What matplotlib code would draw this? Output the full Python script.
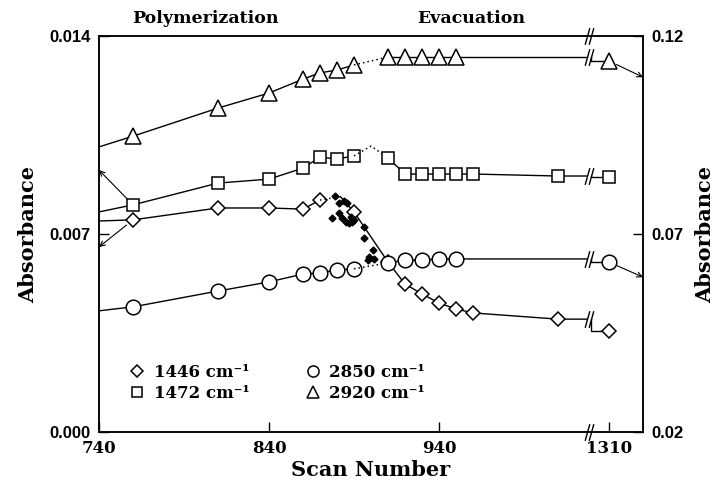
import matplotlib.pyplot as plt
from matplotlib.lines import Line2D

# scan numbers
poly_scans = [760, 810, 840, 860, 870, 880, 890]
evac_scans = [910, 920, 930, 940, 950]
evac_scans_long = [910, 920, 930, 940, 950, 960, 1010]
final_scan = 1310
break_scan = 1028     # where the scan axis is cut
skip = 270            # scans hidden by the cut

# 1446 cm-1 (left axis)
dia_start = 0.00746
dia_poly_scans = [760, 810, 840, 860, 870, 890]
dia_poly = [0.00750, 0.00792, 0.00792, 0.00788, 0.00820, 0.00778]
dia_evac = [0.00601, 0.00523, 0.00488, 0.00456, 0.00435, 0.00421, 0.00399]
dia_final = 0.00357
# fine-step 1446 cm-1 readings around the end of polymerization
fine_scans = [879, 881, 884, 886, 881, 877, 883, 885, 887, 889, 890, 888,
              896, 896, 901, 899, 898, 902]
fine_vals = [0.00834, 0.00810, 0.00817, 0.00810, 0.00774, 0.00757, 0.00757,
             0.00742, 0.00739, 0.00742, 0.00750, 0.00760, 0.00725, 0.00686,
             0.00643, 0.00619, 0.00608, 0.00612]

# 1472 cm-1 (left axis)
sq_start = 0.00778
sq_poly = [0.00803, 0.00880, 0.00894, 0.00933, 0.00972, 0.00965, 0.00976]
sq_peak = 0.01011
sq_evac = [0.00969, 0.00912, 0.00912, 0.00912, 0.00912, 0.00912, 0.00905]
sq_final = 0.00901

# 2850 cm-1 (right axis)
ci_start = 0.0506
ci_poly = [0.0516, 0.0556, 0.0579, 0.0599, 0.0602, 0.0609, 0.0612]
ci_evac = [0.0627, 0.0634, 0.0634, 0.0637, 0.0637]
ci_final = 0.0629

# 2920 cm-1 (right axis)
tr_start = 0.0920
tr_poly = [0.0947, 0.1018, 0.1056, 0.1091, 0.1107, 0.1114, 0.1127]
tr_evac = [0.1147, 0.1147, 0.1147, 0.1147, 0.1147]
tr_final = 0.1137

serif = "DejaVu Serif"
sans = "Liberation Sans"


def xpos(s):
    return s - skip if s > break_scan else s


def slash(ax, x, y):
    # pair of short slanted strokes marking the cut
    for dx in (-1.2, 1.2):
        ax.plot([x + dx], [y], marker=[(-0.28, -1), (0.28, 1)], ms=12,
                mec="black", mew=1.0, ls="none", clip_on=False)


def draw_series(ax, marker, ms, start, p_scans, p_vals, bridge, e_scans,
                e_vals, final):
    style = dict(color="black", lw=1.0, marker=marker, ms=ms, mfc="white",
                 mec="black", mew=1.1)
    ax.plot([740] + p_scans, [start] + p_vals, **style,
            markevery=list(range(1, len(p_scans) + 1)))
    ax.plot([p_scans[-1]] + bridge[0] + [e_scans[0]],
            [p_vals[-1]] + bridge[1] + [e_vals[0]],
            color="black", lw=1.1, ls=(0, (1, 2)))
    ax.plot(e_scans + [break_scan - 1.2], e_vals + [e_vals[-1]], **style,
            markevery=list(range(len(e_scans))))
    ax.plot([break_scan + 1.2, break_scan + 1.2, xpos(final_scan)],
            [e_vals[-1], final, final], **style, markevery=[2])
    slash(ax, break_scan, e_vals[-1])


fig = plt.figure(figsize=(7.22, 4.82), dpi=100)
ax = fig.add_axes([99 / 722, 1 - 432 / 482, 544 / 722, 396 / 482])
ax2 = ax.twinx()

ax.set_xlim(740, 1060)
ax.set_ylim(0, 0.014)
ax2.set_ylim(0.02, 0.12)

# 1446 cm-1: solid up to 870, dotted into the fine readings, solid afterwards
dstyle = dict(color="black", lw=1.0, marker="D", ms=7.5, mfc="white",
              mec="black", mew=1.1)
ax.plot([740] + dia_poly_scans[:5], [dia_start] + dia_poly[:5], **dstyle,
        markevery=list(range(1, 6)))
ax.plot([870, 882], [dia_poly[4], 0.00832], color="black", lw=1.1,
        ls=(0, (1, 2)))
ax.plot([882, 890] + evac_scans_long + [break_scan - 1.2],
        [0.00832, dia_poly[5]] + dia_evac + [dia_evac[-1]], **dstyle,
        markevery=list(range(1, 9)))
ax.plot([break_scan + 1.2, break_scan + 1.2, xpos(final_scan)],
        [dia_evac[-1], dia_final, dia_final], **dstyle, markevery=[2])
slash(ax, break_scan, dia_evac[-1])
ax.plot(fine_scans, fine_vals, ls="none", marker="D", ms=3.5,
        color="black")

draw_series(ax, "s", 9, sq_start, poly_scans, sq_poly, ([900], [sq_peak]),
            evac_scans_long, sq_evac, sq_final)
draw_series(ax2, "o", 10.5, ci_start, poly_scans, ci_poly, ([], []),
            evac_scans, ci_evac, ci_final)
draw_series(ax2, "^", 11, tr_start, poly_scans, tr_poly, ([], []),
            evac_scans, tr_evac, tr_final)

# arrows pointing each series to its axis
arr = dict(arrowstyle="->", lw=0.8, color="black", shrinkA=6, shrinkB=0,
           mutation_scale=9)
ax.annotate("", xy=(740, 0.00926), xytext=(760, sq_poly[0]), arrowprops=arr)
ax.annotate("", xy=(740, 0.00654), xytext=(760, dia_poly[0]), arrowprops=arr)
ax2.annotate("", xy=(1060, 0.1096), xytext=(xpos(final_scan), tr_final),
             arrowprops=arr)
ax2.annotate("", xy=(1060, 0.0591), xytext=(xpos(final_scan), ci_final),
             arrowprops=arr)

# cut marks on the frame
slash(ax, break_scan, 0)
slash(ax, break_scan, 0.014)

for a in (ax, ax2):
    for sp in a.spines.values():
        sp.set_linewidth(1.1)

ax.set_xticks([740, 840, 940, xpos(final_scan)])
ax.set_xticklabels(["740", "840", "940", "1310"], fontfamily=serif,
                   fontweight="bold", fontsize=12)
ax.set_yticks([0, 0.007, 0.014])
ax.set_yticklabels(["0.000", "0.007", "0.014"], fontfamily=sans,
                   fontweight="bold", fontsize=12)
ax2.set_yticks([0.02, 0.07, 0.12])
ax2.set_yticklabels(["0.02", "0.07", "0.12"], fontfamily=sans,
                    fontweight="bold", fontsize=12)
ax.tick_params(axis="both", direction="in", length=7, width=1.0, pad=6)
ax2.tick_params(axis="y", direction="in", length=7, width=1.0, pad=6)

ax.set_xlabel("Scan Number", fontfamily=serif, fontweight="bold",
              fontsize=15, labelpad=2)
ax.set_ylabel("Absorbance", fontfamily=serif, fontweight="bold",
              fontsize=15, labelpad=8)
ax2.set_ylabel("Absorbance", fontfamily=serif, fontweight="bold",
               fontsize=15, labelpad=8)

ax.text(0.195, 1.045, "Polymerization", transform=ax.transAxes,
        ha="center", va="center", fontfamily=serif, fontweight="bold",
        fontsize=12.5)
ax.text(0.684, 1.045, "Evacuation", transform=ax.transAxes,
        ha="center", va="center", fontfamily=serif, fontweight="bold",
        fontsize=12.5)

handles = [Line2D([], [], ls="none", marker=m, ms=s, mfc="white",
                  mec="black", mew=1.1)
           for m, s in (("D", 6), ("s", 7), ("o", 8), ("^", 8))]
labels = ["1446 cm⁻¹", "1472 cm⁻¹", "2850 cm⁻¹", "2920 cm⁻¹"]
ax.legend(handles, labels, ncol=2, frameon=False, loc="upper left",
          bbox_to_anchor=(0.03, 0.21), handlelength=0.8, handletextpad=0.6,
          columnspacing=3.4, labelspacing=0.25,
          prop=dict(family=serif, weight="bold", size=12))

fig.savefig("out.png", dpi=100)
